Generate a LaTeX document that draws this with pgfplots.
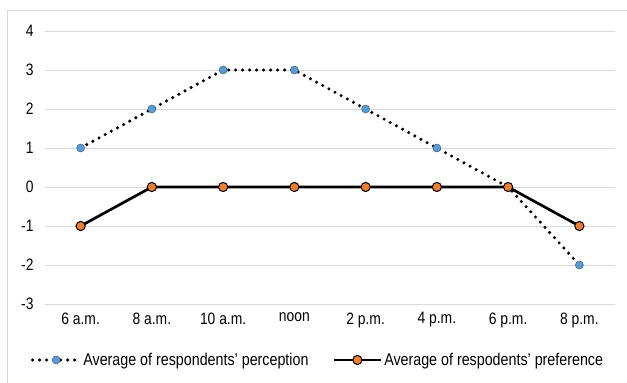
\documentclass[border=0pt]{standalone}
\usepackage{pgfplots}
\pgfplotsset{compat=1.18}
\usepackage{fontspec}
\setmainfont[FakeStretch=0.84]{Liberation Sans}
\definecolor{cblue}{HTML}{5B9BD5}
\definecolor{corange}{HTML}{ED7D31}
\definecolor{cgrid}{HTML}{D9D9D9}
\begin{document}
\begin{tikzpicture}[font=\fontsize{17}{19}\selectfont]
\useasboundingbox (-45pt,-79pt) rectangle (582pt,304pt);
\draw[cgrid, line width=0.8pt] (-38pt,-90pt) -- (-38pt,294pt) -- (600pt,294pt);
\begin{axis}[
  at={(0pt,0pt)}, anchor=south west,
  scale only axis, width=570pt, height=273pt,
  xmin=-0.5, xmax=7.5, ymin=-3, ymax=4,
  xtick={0,...,7},
  xticklabels={6 a.m.,8 a.m.,10 a.m.,noon,2 p.m.,4 p.m.,6 p.m.,8 p.m.},
  ytick={-3,...,4},
  axis line style={draw=none},
  major tick length=0pt,
  ymajorgrids, grid style={cgrid, line width=0.8pt},
  /pgf/number format/assume math mode=true,
  tick label style={font=\fontsize{16.5}{18}\selectfont},
  yticklabel style={xshift=-8pt},
  xticklabel style={yshift=-5pt},
  legend style={at={(0.479,-0.205)}, anchor=center, draw=none, fill=none,
    legend columns=2, /tikz/every even column/.append style={column sep=22pt},
    font=\fontsize{17}{19}\selectfont, inner sep=0pt},
  legend image code/.code={
    \draw[#1] (0pt,0pt) -- (47pt,0pt);
    \draw[#1, draw=none] plot coordinates {(23.5pt,0pt)};
  },
  clip=false,
]
\addplot[black, line width=3.4pt, line cap=round, dash pattern=on 0pt off 7pt, mark=*, mark size=4pt,
  mark options={solid, fill=cblue, draw=cblue!60!black, line width=0.5pt}]
  coordinates {(0,1) (1,2) (2,3) (3,3) (4,2) (5,1) (6,0) (7,-2)};
\addlegendentry{Average of respondents' perception}
\addplot[black, line width=2.7pt, mark=*, mark size=4.6pt,
  mark options={solid, fill=corange, draw=black, line width=1pt}]
  coordinates {(0,-1) (1,0) (2,0) (3,0) (4,0) (5,0) (6,0) (7,-1)};
\addlegendentry{Average of respodents' preference}
\end{axis}
\end{tikzpicture}
\end{document}
